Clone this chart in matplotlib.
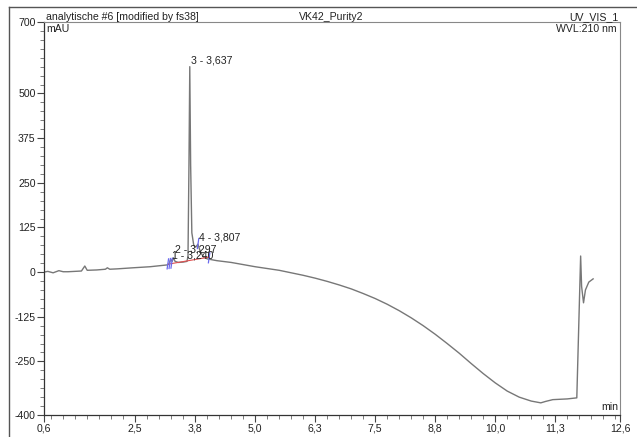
import matplotlib
matplotlib.use("Agg")
import matplotlib.pyplot as plt
from matplotlib.lines import Line2D

plt.rcParams['font.family'] = ['Liberation Sans', 'DejaVu Sans']

# Chromatogram trace (retention time in min, signal in mAU)
time_min = [0.60, 0.68, 0.79, 0.91, 1.00, 1.10, 1.38, 1.45, 1.50, 1.70, 1.88, 1.92,
            1.97, 2.12, 2.45, 2.81, 3.16, 3.20, 3.24, 3.27, 3.297, 3.33, 3.40, 3.50,
            3.58, 3.60, 3.62, 3.637, 3.655, 3.68, 3.72, 3.76, 3.807, 3.85, 3.92, 4.00,
            4.20, 4.50, 4.75, 5.00, 5.25, 5.50, 5.75, 6.00, 6.25, 6.50, 6.75, 7.00,
            7.25, 7.50, 7.75, 8.00, 8.25, 8.50, 8.75, 9.00, 9.25, 9.50, 9.75, 10.00,
            10.25, 10.50, 10.75, 10.95, 11.05, 11.20, 11.50, 11.70, 11.78, 11.80,
            11.84, 11.88, 11.95, 12.04]
signal_mau = [0, 2, -2, 4, 1, 1, 3, 17, 5, 6, 8, 12,
              8, 9, 12, 15, 20, 22, 36, 30, 40, 30, 27, 28,
              30, 45, 300, 575, 300, 110, 75, 70, 78, 60, 42, 37,
              32, 27, 21, 15, 10, 5, -2, -9, -17, -26, -36, -47,
              -60, -74, -90, -108, -128, -150, -174, -200, -227, -256, -284, -310,
              -333, -350, -361, -366, -362, -357, -355, -352, 45, -40,
              -86, -50, -28, -19]

# peak annotations
peak_names = ["1 - 3,240", "2 - 3,297", "3 - 3,637", "4 - 3,807"]
peak_times = [3.240, 3.297, 3.637, 3.807]
peak_heights = [28, 44, 575, 78]

# integration delimiters and baseline
delim_times = [3.18, 3.22, 3.26, 3.81, 4.04]
delim_levels = [23, 24, 25, 80, 40]
baseline_times = [3.18, 4.04]
baseline_levels = [22, 42]

xtick_vals = [0.6, 2.5, 3.75, 5.0, 6.25, 7.5, 8.75, 10.0, 11.25, 12.6]
xtick_labels = ['0,6', '2,5', '3,8', '5,0', '6,3', '7,5', '8,8', '10,0', '11,3', '12,6']
ytick_vals = [-400, -250, -125, 0, 125, 250, 375, 500, 700]

fs = 7.6
txt = '#222222'

fig = plt.figure(figsize=(6.37, 4.37), dpi=100)
ax = fig.add_axes([44 / 637, 22 / 437, 576 / 637, 393 / 437])

ax.plot(time_min, signal_mau, color='#777777', linewidth=1.0)

# baseline (red) and peak delimiters (blue)
ax.plot(baseline_times, baseline_levels, color='#e05050', linewidth=0.8)
for t, lv in zip(delim_times, delim_levels):
    ax.plot([t - 0.015, t + 0.015], [lv - 14, lv + 14], color='#6a6aee', linewidth=0.9)

for name, t, h in zip(peak_names, peak_times, peak_heights):
    ax.annotate(name, (t, h), xytext=(1, 1), textcoords='offset points',
                ha='left', va='bottom', fontsize=fs, color=txt)

ax.set_xlim(0.6, 12.6)
ax.set_ylim(-400, 700)
ax.set_xticks(xtick_vals)
ax.set_xticklabels(xtick_labels)
ax.set_xticks([0.75 + 0.25 * i for i in range(48)], minor=True)
ax.set_yticks(ytick_vals)
ax.set_yticklabels([str(v) for v in ytick_vals])
ax.set_yticks([-400 + 25 * i for i in range(45)], minor=True)
ax.tick_params(which='major', length=5, width=0.8, color='#444444',
               labelsize=fs, labelcolor=txt, pad=1)
ax.tick_params(which='minor', length=3, width=0.6, color='#666666')

for side in ['left', 'bottom']:
    ax.spines[side].set_color('#333333')
    ax.spines[side].set_linewidth(0.9)
for side in ['top', 'right']:
    ax.spines[side].set_color('#888888')
    ax.spines[side].set_linewidth(0.8)

ax.text(0.004, 0.995, 'mAU', transform=ax.transAxes, ha='left', va='top',
        fontsize=fs, color=txt)
ax.text(0.995, 0.995, 'WVL:210 nm', transform=ax.transAxes, ha='right', va='top',
        fontsize=fs, color=txt)
ax.text(0.997, 0.008, 'min', transform=ax.transAxes, ha='right', va='bottom',
        fontsize=fs, color=txt)

# header line
fig.text(46 / 637, 1 - 17 / 437, 'analytische #6 [modified by fs38]', ha='left',
         va='center', fontsize=fs, color=txt)
fig.text(331 / 637, 1 - 17 / 437, 'VK42_Purity2', ha='center', va='center',
         fontsize=fs, color=txt)
fig.text(619 / 637, 1 - 17 / 437, 'UV_VIS_1', ha='right', va='center',
         fontsize=fs, color=txt)

# outer frame (partly cropped in the reference)
fig.add_artist(Line2D([9 / 637, 9 / 637], [0, 1 - 7 / 437], color='#555555', linewidth=1.0))
fig.add_artist(Line2D([9 / 637, 1], [1 - 7 / 437, 1 - 7 / 437], color='#555555', linewidth=1.0))

fig.savefig('out.png', dpi=100)
